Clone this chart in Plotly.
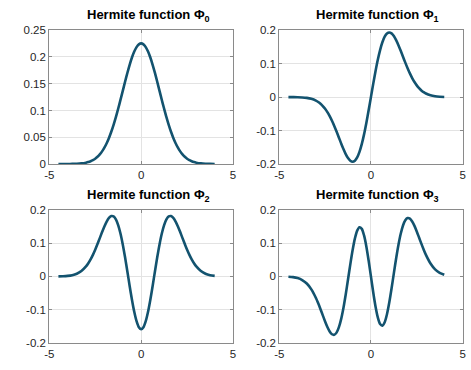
import plotly.graph_objects as go

x = [-4.5, -4.25, -4.0, -3.75, -3.5, -3.25,
     -3.0, -2.875, -2.75, -2.625, -2.5, -2.375, -2.25, -2.125, -2.0, -1.875, -1.75, -1.625,
     -1.5, -1.375, -1.25, -1.125, -1.0, -0.875, -0.75, -0.625, -0.5, -0.375, -0.25, -0.125,
     0.0,
     0.125, 0.25, 0.375, 0.5, 0.625, 0.75, 0.875, 1.0, 1.125, 1.25, 1.375, 1.5,
     1.625, 1.75, 1.875, 2.0, 2.125, 2.25, 2.375, 2.5, 2.625, 2.75, 2.875, 3.0,
     3.25, 3.5, 3.75, 4.0]

phi0 = [0.0000090, 0.0000269, 0.0000755, 0.000199, 0.000493, 0.001146,
        0.002503, 0.00361, 0.005136, 0.00719, 0.00990, 0.01343, 0.01793, 0.02357, 0.03050, 0.03885, 0.04873, 0.06017,
        0.07315, 0.08755, 0.1032, 0.11967, 0.1367, 0.15366, 0.1701, 0.18535, 0.1989, 0.21003, 0.2184, 0.22358,
        0.2253,
        0.22358, 0.2184, 0.21003, 0.1989, 0.18535, 0.1701, 0.15366, 0.1367, 0.11967, 0.1032, 0.08755, 0.07315,
        0.06017, 0.04873, 0.03885, 0.03050, 0.02357, 0.01793, 0.01343, 0.00990, 0.00719, 0.005136, 0.00361, 0.002503,
        0.001146, 0.000493, 0.000199, 0.0000755]

phi1 = [-0.0000575, -0.000162, -0.000427, -0.00106, -0.00244, -0.00527,
        -0.01062, -0.01469, -0.01998, -0.02668, -0.03500, -0.04510, -0.05704, -0.07082, -0.08625, -0.10302, -0.12061, -0.13829,
        -0.15518, -0.17026, -0.18237, -0.19040, -0.19328, -0.19015, -0.18041, -0.16383, -0.14061, -0.11139, -0.07722, -0.03952,
        0.0,
        0.03952, 0.07722, 0.11139, 0.14061, 0.16383, 0.18041, 0.19015, 0.19328, 0.19040, 0.18237, 0.17026, 0.15518,
        0.13829, 0.12061, 0.10302, 0.08625, 0.07082, 0.05704, 0.04510, 0.03500, 0.02668, 0.01998, 0.01469, 0.01062,
        0.00527, 0.00244, 0.00106, 0.000427]

phi2 = [0.000252, 0.000669, 0.00165, 0.00382, 0.00819, 0.01631,
        0.03009, 0.03969, 0.05130, 0.06495, 0.08051, 0.09761, 0.11567, 0.13382, 0.15094, 0.16569, 0.17660, 0.18217,
        0.18104, 0.17218, 0.15501, 0.12958, 0.09664, 0.05772, 0.01503, -0.02867, -0.07030, -0.10674, -0.13513, -0.15315,
        -0.15933,
        -0.15315, -0.13513, -0.10674, -0.07030, -0.02867, 0.01503, 0.05772, 0.09664, 0.12958, 0.15501, 0.17218, 0.18104,
        0.18217, 0.17660, 0.16569, 0.15094, 0.13382, 0.11567, 0.09761, 0.08051, 0.06495, 0.05130, 0.03969, 0.03009,
        0.01631, 0.00819, 0.00382, 0.00165]

phi3 = [-0.00088, -0.00219, -0.00506, -0.01084, -0.02141, -0.03898,
        -0.06504, -0.08117, -0.09888, -0.11743, -0.13576, -0.15247, -0.16593, -0.17438, -0.17607, -0.16955, -0.15387, -0.12879,
        -0.09503, -0.05430, -0.00931, 0.03644, 0.07891, 0.11402, 0.13810, 0.14840, 0.14352, 0.12364, 0.09063, 0.04790,
        0.0,
        -0.04790, -0.09063, -0.12364, -0.14352, -0.14840, -0.13810, -0.11402, -0.07891, -0.03644, 0.00931, 0.05430, 0.09503,
        0.12879, 0.15387, 0.16955, 0.17607, 0.17438, 0.16593, 0.15247, 0.13576, 0.11743, 0.09888, 0.08117, 0.06504,
        0.03898, 0.02141, 0.01084, 0.00506]

titles = ["Hermite function Φ<sub>0</sub>", "Hermite function Φ<sub>1</sub>",
          "Hermite function Φ<sub>2</sub>", "Hermite function Φ<sub>3</sub>"]
series = [phi0, phi1, phi2, phi3]

y_ranges = [[0, 0.25], [-0.2, 0.2], [-0.2, 0.2], [-0.2, 0.2]]
y_ticks = [[0, 0.05, 0.1, 0.15, 0.2, 0.25], [-0.2, -0.1, 0, 0.1, 0.2],
           [-0.2, -0.1, 0, 0.1, 0.2], [-0.2, -0.1, 0, 0.1, 0.2]]
y_ticktext = [["0", "0.05", "0.1", "0.15", "0.2", "0.25"], ["-0.2", "-0.1", "0", "0.1", "0.2"],
              ["-0.2", "-0.1", "0", "0.1", "0.2"], ["-0.2", "-0.1", "0", "0.1", "0.2"]]
x_ticks = [-5, 0, 5]
x_ticktext = ["-5", "0", "5"]

W, H = 471, 370
xdoms = [[45 / W, 232 / W], [279 / W, 465.5 / W]]
ydoms = [[1 - 163.3 / H, 1 - 25 / H], [1 - 348 / H, 1 - 211 / H]]

LINE = "#13536f"
FRAME = "#8a8a8a"
GRID = "#e3e3e3"
TXT = "#262626"
FONT = "Liberation Sans, Arial, sans-serif"

fig = go.Figure()
layout = dict(width=W, height=H, margin=dict(l=0, r=0, t=0, b=0),
              paper_bgcolor="white", plot_bgcolor="white", showlegend=False,
              font=dict(family=FONT, size=11, color=TXT))
annotations = []
for i in range(4):
    r, c = divmod(i, 2)
    n = "" if i == 0 else str(i + 1)
    fig.add_trace(go.Scatter(x=x, y=series[i], mode="lines",
                             line=dict(color=LINE, width=2.6, shape="spline", smoothing=0.8),
                             xaxis="x" + n, yaxis="y" + n, hoverinfo="skip"))
    common = dict(showline=True, mirror="ticks", linecolor=FRAME, linewidth=1,
                  showgrid=True, gridcolor=GRID, gridwidth=1, zeroline=False,
                  ticks="inside", ticklen=3, tickcolor=FRAME,
                  tickfont=dict(family=FONT, size=11.5, color=TXT))
    layout["xaxis" + n] = dict(domain=xdoms[c], anchor="y" + n, range=[-5, 5],
                               tickvals=x_ticks, ticktext=x_ticktext, **common)
    layout["yaxis" + n] = dict(domain=ydoms[r], anchor="x" + n, range=y_ranges[i],
                               tickvals=y_ticks[i], ticktext=y_ticktext[i], **common)
    annotations.append(dict(text="<b>" + titles[i] + "</b>", xref="paper", yref="paper",
                            x=(xdoms[c][0] + xdoms[c][1]) / 2, y=ydoms[r][1],
                            xanchor="center", yanchor="bottom", xshift=7, yshift=4, showarrow=False,
                            font=dict(family=FONT, size=13, color="black")))
layout["annotations"] = annotations
fig.update_layout(**layout)
fig.write_html("out.html", config={"displayModeBar": False},
               post_script="document.body.style.margin='0';document.body.style.padding='0';")
